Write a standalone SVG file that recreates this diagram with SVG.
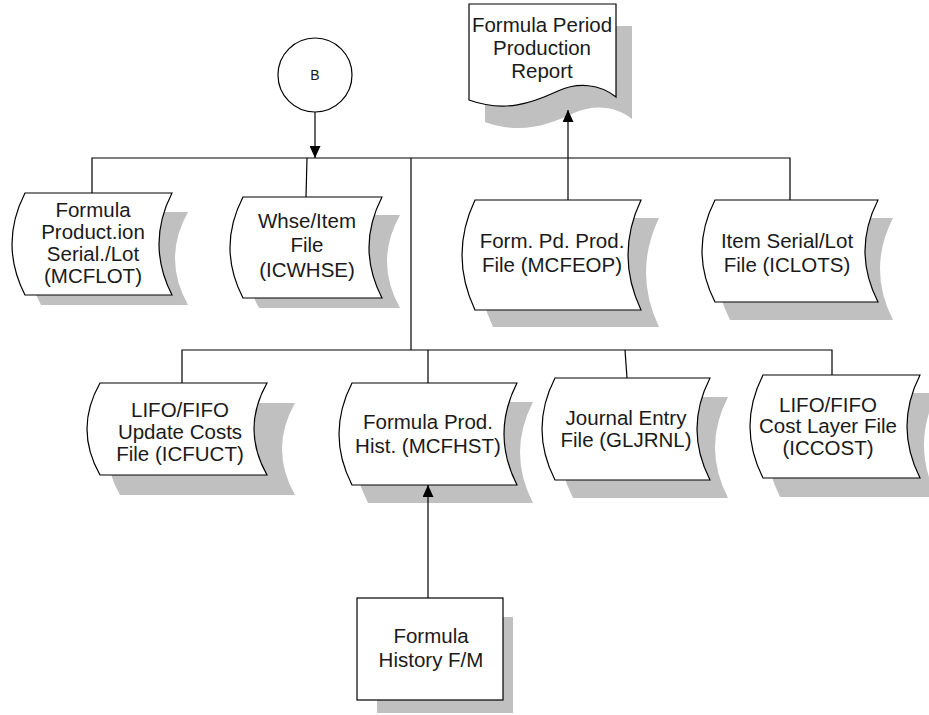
<svg xmlns="http://www.w3.org/2000/svg" width="929" height="715" viewBox="0 0 929 715">
<defs>
<style>
.shape{fill:#ffffff;stroke:#000000;stroke-width:1.2}
.shadow{fill:#c0c0c0;stroke:none}
.conn{fill:none;stroke:#000000;stroke-width:1.2}
text{font-family:"Liberation Sans",Arial,sans-serif;font-size:20.5px;fill:#1a1a1a;text-anchor:middle}
</style>
<marker id="arr" markerUnits="userSpaceOnUse" markerWidth="12" markerHeight="11" refX="12" refY="5.5" orient="auto">
<path d="M0,0 L12,5.5 L0,11 Z" fill="#000000"/>
</marker>
</defs>
<rect width="929" height="715" fill="#ffffff"/>

<g id="n-report">
<path class="shadow" transform="translate(16,22)" d="M469,4 H616 V97 C600,84 578,82 558,91 C532,103 505,113 469,100 Z"/>
<path class="shape" d="M469,4 H616 V97 C600,84 578,82 558,91 C532,103 505,113 469,100 Z"/>
<text x="542" y="32">Formula Period</text>
<text x="542" y="55">Production</text>
<text x="542" y="78">Report</text>
</g>

<g id="n-b">
<circle class="shape" cx="315" cy="75" r="37"/>
<text x="315" y="80" style="font-size:14px">B</text>
</g>

<g id="n-mcflot">
<path class="shadow" d="M41,212 H188 Q162,258.5 188,305 H41 Q15,258.5 41,212 Z"/>
<path class="shape" d="M25,193 H172 Q146,244 172,295 H25 Q-1,244 25,193 Z"/>
<text x="93" y="217">Formula</text>
<text x="93" y="239">Product.ion</text>
<text x="93" y="261">Serial./Lot</text>
<text x="93" y="283">(MCFLOT)</text>
</g>

<g id="n-icwhse">
<path class="shadow" d="M259,215 H400 Q374,261.5 400,308 H259 Q233,261.5 259,215 Z"/>
<path class="shape" d="M243,197 H382 Q356,247.5 382,298 H243 Q217,247.5 243,197 Z"/>
<text x="307" y="228">Whse/Item</text>
<text x="307" y="252">File</text>
<text x="307" y="277">(ICWHSE)</text>
</g>

<g id="n-mcfeop">
<path class="shadow" d="M493,218 H659 Q633,272.5 659,327 H493 Q467,272.5 493,218 Z"/>
<path class="shape" d="M475,200 H641 Q615,255 641,310 H475 Q449,255 475,200 Z"/>
<text x="552" y="248">Form. Pd. Prod.</text>
<text x="552" y="272">File (MCFEOP)</text>
</g>

<g id="n-iclots">
<path class="shadow" d="M730,218 H893 Q867,269 893,320 H730 Q704,269 730,218 Z"/>
<path class="shape" d="M715,200 H878 Q852,251 878,302 H715 Q689,251 715,200 Z"/>
<text x="787" y="248">Item Serial/Lot</text>
<text x="787" y="272">File (ICLOTS)</text>
</g>

<g id="n-icfuct">
<path class="shadow" d="M120,403 H295 Q269,449 295,495 H120 Q94,449 120,403 Z"/>
<path class="shape" d="M100,383 H267 Q241,429 267,475 H100 Q74,429 100,383 Z"/>
<text x="180" y="417">LIFO/FIFO</text>
<text x="180" y="439">Update Costs</text>
<text x="180" y="461">File (ICFUCT)</text>
</g>

<g id="n-mcfhst">
<path class="shadow" d="M368,402 H533 Q507,452.5 533,503 H368 Q342,452.5 368,402 Z"/>
<path class="shape" d="M352,383 H517 Q491,434 517,485 H352 Q326,434 352,383 Z"/>
<text x="428" y="429">Formula Prod.</text>
<text x="428" y="453">Hist. (MCFHST)</text>
</g>

<g id="n-gljrnl">
<path class="shadow" d="M573,397 H728 Q702,447.5 728,498 H573 Q547,447.5 573,397 Z"/>
<path class="shape" d="M555,378 H710 Q684,429 710,480 H555 Q529,429 555,378 Z"/>
<text x="626" y="425">Journal Entry</text>
<text x="626" y="447">File (GLJRNL)</text>
</g>

<g id="n-iccost">
<path class="shadow" d="M780,393 H937 Q911,445 937,497 H780 Q754,445 780,393 Z"/>
<path class="shape" d="M763,375 H920 Q894,426.5 920,478 H763 Q737,426.5 763,375 Z"/>
<text x="828" y="412">LIFO/FIFO</text>
<text x="828" y="433">Cost Layer File</text>
<text x="828" y="455">(ICCOST)</text>
</g>

<g id="n-fm">
<rect class="shadow" x="377" y="617" width="136" height="96"/>
<rect class="shape" x="357" y="598" width="146" height="102"/>
<text x="431" y="643">Formula</text>
<text x="431" y="667">History F/M</text>
</g>

<g id="connectors">
<path class="conn" d="M315,112 V158" marker-end="url(#arr)"/>
<path class="conn" d="M92,193 V158 H790 V200"/>
<path class="conn" d="M307,158 L306,197"/>
<path class="conn" d="M411,158 V350"/>
<path class="conn" d="M568,200 V110" marker-end="url(#arr)"/>
<path class="conn" d="M182,383 V350 H832 V375"/>
<path class="conn" d="M428,350 V383"/>
<path class="conn" d="M625,350 L627,378"/>
<path class="conn" d="M428,598 V485" marker-end="url(#arr)"/>
</g>
</svg>
